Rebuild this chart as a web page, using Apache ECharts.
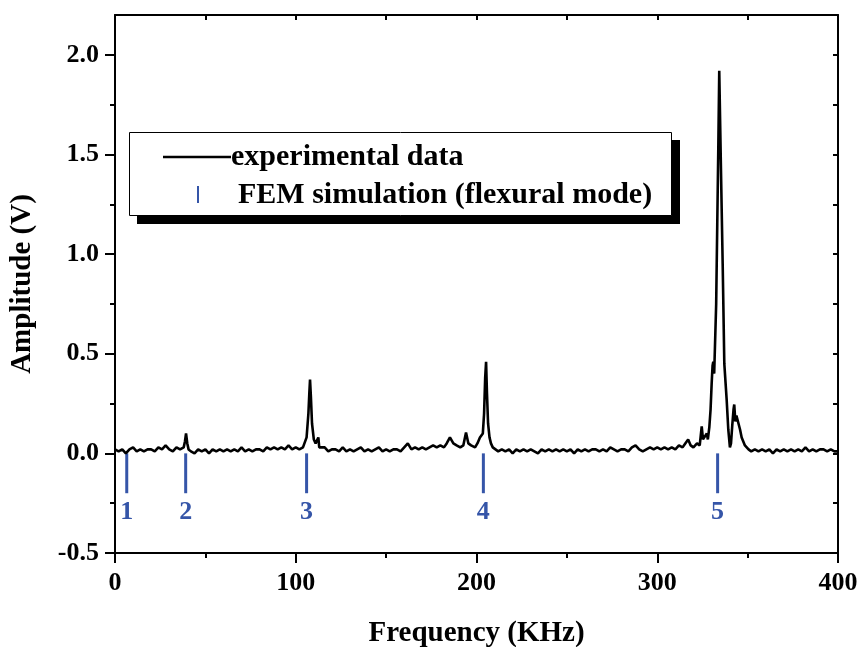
<!DOCTYPE html>
<html lang="en">
<head>
<meta charset="UTF-8">
<title>Amplitude vs Frequency</title>
<style>
    body { margin: 0; background: #fff; }
    #chart { width: 861px; height: 647px; }
</style>
<script src="https://cdn.jsdelivr.net/npm/echarts@6/dist/echarts.min.js"></script>
</head>
<body>
<div id="chart"></div>
<script type="text/javascript">
// experimental spectrum (kHz / V)
var freq = [
    0, 2, 4, 6, 8, 10, 12, 14, 16, 18, 20, 22, 24, 26, 28, 30, 32, 34, 36, 38,
    38.7, 39.3, 40, 40.7, 42, 44, 46, 48, 50, 52, 54, 56, 58, 60, 62, 64, 66, 68, 70,
    72, 74, 76, 78, 80, 82, 84, 86, 88, 90, 92, 94, 96, 98, 100, 102, 104,
    105, 106, 107, 107.5, 107.9, 108.4, 109, 110, 111, 112, 112.5, 113, 114,
    116, 118, 120, 122, 124, 126, 128, 130, 132, 134, 136, 138, 140, 142, 144, 146,
    148, 150, 152, 154, 156, 158, 160, 162, 164, 166, 168, 170, 172, 174, 176, 178,
    180, 182, 183.5, 185.3, 187.2, 189, 191, 192.7, 194.2, 195.5, 197, 199.2, 200.5,
    201.9, 203, 203.5, 204.2, 204.8, 205.3, 205.8, 206.4, 207.2, 208, 209, 210,
    212, 214, 216, 218, 220, 222, 224, 226, 228, 230, 232, 234, 236, 238, 240,
    242, 244, 246, 248, 250, 252, 254, 256, 258, 260, 262, 264, 266, 268, 270,
    272, 274, 276, 278, 280, 282, 284, 286, 288, 290, 292, 294, 296, 298, 300,
    302, 304, 306, 308, 310, 312, 314, 315.5, 317.1, 318.5, 320, 322, 323.5,
    324.6, 325.3, 326, 327.4, 328, 328.8, 329.5, 330.1, 330.6, 331, 331.5, 332,
    332.6, 333.2, 333.8, 334.3, 335.2, 336.2, 337.1, 338.4, 339.3, 340.2, 340.8,
    341.5, 342.2, 342.6, 343.2, 343.8, 344.9, 345.8, 346.7, 347.6, 348.5, 349.5,
    350.5, 352, 354, 356, 358, 360, 362, 364, 366, 368, 370, 372, 374, 376, 378,
    380, 382, 384, 386, 388, 390, 392, 394, 396, 398, 400
];
var amp = [
    0.02, 0.01, 0.02, 0.00, 0.02, 0.03, 0.01, 0.02, 0.01, 0.02, 0.02, 0.01, 0.03, 0.02, 0.04, 0.02, 0.01, 0.03, 0.02, 0.03,
    0.06, 0.10, 0.05, 0.02, 0.01, 0.00, 0.02, 0.01, 0.02, 0.00, 0.02, 0.01, 0.02, 0.01, 0.02, 0.01, 0.02, 0.01, 0.03,
    0.01, 0.02, 0.01, 0.02, 0.02, 0.01, 0.03, 0.02, 0.03, 0.02, 0.03, 0.02, 0.04, 0.02, 0.03, 0.02, 0.03,
    0.04, 0.08, 0.20, 0.30, 0.37, 0.28, 0.15, 0.07, 0.05, 0.04, 0.08, 0.03, 0.02,
    0.03, 0.01, 0.02, 0.02, 0.01, 0.03, 0.01, 0.02, 0.01, 0.02, 0.03, 0.01, 0.02, 0.01, 0.02, 0.03,
    0.01, 0.02, 0.01, 0.02, 0.02, 0.01, 0.03, 0.05, 0.02, 0.03, 0.02, 0.03, 0.02, 0.03, 0.04, 0.03,
    0.04, 0.03, 0.05, 0.08, 0.05, 0.04, 0.03, 0.04, 0.105, 0.05, 0.04, 0.03, 0.05,
    0.08, 0.08, 0.10, 0.20, 0.38, 0.46, 0.30, 0.15, 0.08, 0.05, 0.03, 0.02,
    0.01, 0.02, 0.01, 0.02, 0.00, 0.02, 0.01, 0.02, 0.01, 0.02, 0.01, 0.00, 0.02, 0.01, 0.02,
    0.01, 0.02, 0.01, 0.02, 0.01, 0.02, 0.00, 0.02, 0.01, 0.02, 0.01, 0.02, 0.02, 0.01, 0.02,
    0.01, 0.03, 0.02, 0.01, 0.02, 0.02, 0.01, 0.03, 0.04, 0.02, 0.01, 0.02, 0.03, 0.02, 0.03,
    0.02, 0.03, 0.02, 0.03, 0.02, 0.04, 0.03, 0.05, 0.07, 0.04, 0.03, 0.05, 0.04,
    0.135, 0.07, 0.08, 0.10, 0.07, 0.13, 0.22, 0.35, 0.44, 0.46, 0.40, 0.40,
    0.75, 1.15, 1.55, 1.92, 1.45, 0.95, 0.45, 0.27, 0.12, 0.03, 0.05,
    0.14, 0.22, 0.245, 0.16, 0.19, 0.18, 0.12, 0.08, 0.07, 0.04, 0.03,
    0.02, 0.01, 0.02, 0.01, 0.02, 0.01, 0.02, 0.00, 0.02, 0.01, 0.02, 0.01, 0.02, 0.01, 0.02,
    0.01, 0.03, 0.01, 0.02, 0.01, 0.02, 0.02, 0.01, 0.02, 0.01, 0.01
];

// FEM flexural mode frequencies (kHz) and their numbers
var femFreq = [6.5, 39.1, 106.0, 203.8, 333.4];
var femMode = ['1', '2', '3', '4', '5'];
var femDepth = -0.2;

var yMajor = [-0.5, 0, 0.5, 1.0, 1.5, 2.0];
var yMinor = [-0.25, 0.25, 0.75, 1.25, 1.75];
var yAll = [-0.5, -0.25, 0, 0.25, 0.5, 0.75, 1.0, 1.25, 1.5, 1.75, 2.0];

var blue = '#3555a8';
var fontFam = '"Liberation Serif", "Times New Roman", serif';

var expData = [];
for (var i = 0; i < freq.length; i++) {
    expData.push([freq[i], amp[i]]);
}
var femData = [];
for (var j = 0; j < femFreq.length; j++) {
    femData.push([femFreq[j], femDepth]);
}

var lineStyleBlack = { color: '#000', width: 2 };

var option = {
    animation: false,
    backgroundColor: '#fff',
    grid: { left: 115, right: 23, top: 15, bottom: 94, outerBoundsMode: 'none', containLabel: false },
    xAxis: [{
        type: 'value',
        position: 'bottom',
        min: 0, max: 400, interval: 100,
        axisLine: { onZero: false, lineStyle: lineStyleBlack },
        axisTick: { inside: false, length: 10, lineStyle: lineStyleBlack },
        minorTick: { show: true, splitNumber: 2, length: 5, lineStyle: lineStyleBlack },
        splitLine: { show: false },
        axisLabel: { color: '#000', fontFamily: fontFam, fontWeight: 'bold', fontSize: 26, margin: 17 },
        name: 'Frequency (KHz)',
        nameLocation: 'middle',
        nameGap: 66,
        nameTextStyle: { color: '#000', fontFamily: fontFam, fontWeight: 'bold', fontSize: 29 }
    }, {
        type: 'value',
        position: 'top',
        min: 0, max: 400, interval: 50,
        axisLine: { onZero: false, lineStyle: lineStyleBlack },
        axisTick: { inside: true, length: 5, lineStyle: lineStyleBlack },
        axisLabel: { show: false },
        splitLine: { show: false }
    }],
    yAxis: [{
        type: 'value',
        position: 'left',
        min: -0.5, max: 2.2,
        axisLine: { onZero: false, lineStyle: lineStyleBlack },
        axisTick: { inside: false, length: 10, customValues: yMajor, lineStyle: lineStyleBlack },
        axisLabel: {
            customValues: yMajor,
            color: '#000', fontFamily: fontFam, fontWeight: 'bold', fontSize: 26, margin: 16,
            formatter: function (v) { return v.toFixed(1); }
        },
        splitLine: { show: false },
        name: 'Amplitude (V)',
        nameLocation: 'middle',
        nameRotate: 90,
        nameGap: 78,
        nameTextStyle: { color: '#000', fontFamily: fontFam, fontWeight: 'bold', fontSize: 29 }
    }, {
        type: 'value',
        position: 'left',
        offset: 0,
        min: -0.5, max: 2.2,
        axisLine: { show: false, onZero: false },
        axisTick: { inside: false, length: 5, customValues: yMinor, lineStyle: lineStyleBlack },
        axisLabel: { show: false },
        splitLine: { show: false }
    }, {
        type: 'value',
        position: 'right',
        min: -0.5, max: 2.2,
        axisLine: { onZero: false, lineStyle: lineStyleBlack },
        axisTick: { inside: true, length: 5, customValues: yAll, lineStyle: lineStyleBlack },
        axisLabel: { show: false },
        splitLine: { show: false }
    }],
    series: [{
        name: 'experimental data',
        type: 'line',
        xAxisIndex: 0,
        yAxisIndex: 0,
        data: expData,
        showSymbol: false,
        symbol: 'none',
        lineStyle: { color: '#000', width: 2.6 },
        z: 3
    }, {
        name: 'FEM simulation (flexural mode)',
        type: 'custom',
        xAxisIndex: 0,
        yAxisIndex: 0,
        data: femData,
        z: 2,
        renderItem: function (params, api) {
            var p0 = api.coord([api.value(0), 0]);
            var p1 = api.coord([api.value(0), api.value(1)]);
            return {
                type: 'group',
                children: [{
                    type: 'line',
                    shape: { x1: p0[0], y1: p0[1], x2: p1[0], y2: p1[1] },
                    style: { stroke: blue, lineWidth: 3 }
                }, {
                    type: 'text',
                    style: {
                        text: femMode[params.dataIndex],
                        x: p1[0], y: p1[1] + 6,
                        align: 'center', verticalAlign: 'top',
                        font: 'bold 26px ' + fontFam,
                        fill: blue
                    }
                }]
            };
        }
    }],
    graphic: [
        // legend box with hard black shadow
        { type: 'rect', shape: { x: 137, y: 140, width: 543, height: 84 }, style: { fill: '#000' }, z: 10 },
        { type: 'rect', shape: { x: 129.5, y: 132.5, width: 542, height: 83 }, style: { fill: '#fff', stroke: '#000', lineWidth: 1 }, z: 11 },
        { type: 'line', shape: { x1: 163, y1: 157, x2: 231, y2: 157 }, style: { stroke: '#000', lineWidth: 2.4 }, z: 12 },
        { type: 'text', x: 231, y: 157, style: { text: 'experimental data', font: 'bold 30px ' + fontFam, fill: '#000', verticalAlign: 'middle' }, z: 12 },
        { type: 'line', shape: { x1: 198, y1: 186, x2: 198, y2: 203 }, style: { stroke: blue, lineWidth: 2 }, z: 12 },
        { type: 'text', x: 238, y: 195, style: { text: 'FEM simulation (flexural mode)', font: 'bold 30px ' + fontFam, fill: '#000', verticalAlign: 'middle' }, z: 12 }
    ]
};

var chart = echarts.init(document.getElementById('chart'));
chart.setOption(option);
</script>
</body>
</html>
